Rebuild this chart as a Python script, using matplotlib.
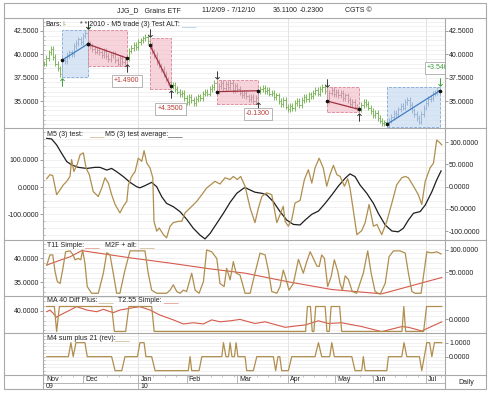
import matplotlib
matplotlib.use("Agg")
import matplotlib.pyplot as plt
from matplotlib.lines import Line2D
from matplotlib.patches import Rectangle
from matplotlib.transforms import ScaledTranslation
from matplotlib.ticker import FormatStrFormatter, MultipleLocator, FixedLocator

plt.rcParams['font.family'] = ['Liberation Sans', 'DejaVu Sans']
plt.rcParams['font.size'] = 5

# ---------------- data ----------------
closes = [
    39.0, 39.6, 40.2, 40.6, 39.7, 39.0, 38.5, 37.9, 39.4, 39.3,
    39.9, 40.2, 40.0, 40.9, 41.2, 41.6, 41.3, 42.0, 42.3, 41.1,
    40.9, 40.6, 40.3, 40.5, 40.2, 39.9, 40.4, 39.8, 39.5, 39.9,
    40.1, 39.4, 39.0, 39.6, 39.2, 39.4, 39.6, 40.4, 40.7, 41.0,
    40.8, 41.3, 41.5, 41.7, 41.9, 41.4, 41.0, 40.3, 39.9, 39.2,
    38.8, 38.4, 37.9, 37.3, 37.0, 36.6, 36.7, 36.3, 36.0, 35.7,
    35.9, 35.3, 34.9, 35.4, 35.1, 34.8, 35.2, 35.5, 35.3, 35.8,
    36.0, 35.8, 36.3, 36.5, 36.9, 36.0, 36.6, 36.9, 36.4, 36.8,
    36.5, 36.9, 36.2, 36.6, 36.3, 35.9, 35.6, 35.9, 35.5, 35.2,
    35.4, 35.0, 35.3, 36.1, 36.3, 36.4, 36.1, 36.2, 35.8, 35.9,
    35.4, 35.6, 35.0, 34.7, 35.1, 34.4, 34.1, 34.5, 34.2, 34.8,
    35.0, 34.6, 35.1, 35.4, 35.2, 35.7, 35.5, 35.9, 36.2, 35.8,
    36.3, 36.5, 36.1, 35.0, 35.9, 36.2, 35.7, 36.0, 35.6, 35.9,
    35.3, 35.6, 35.1, 34.7, 34.9, 34.4, 34.2, 34.1, 34.6, 34.9,
    34.7, 34.3, 33.9, 33.5, 33.7, 33.2, 32.9, 32.6, 32.7, 32.5,
    32.9, 33.3, 33.7, 33.6, 34.1, 34.5, 34.3, 34.9, 35.1, 34.6,
    34.0, 33.6, 33.2, 32.8, 33.6, 34.3, 34.8, 35.2, 35.3, 35.8,
    35.9, 36.2, 36.1,
]

# (entry bar, exit bar, side, result label)
trades = [
    (8, 19, 'long', ''),
    (19, 36, 'short', '+1.4900'),
    (46, 55, 'short', '+4.3500'),
    (75, 93, 'short', '-0.1300'),
    (123, 137, 'short', ''),
    (149, 172, 'long', '+3.5400'),
]

months = ['Nov', 'Dec', 'Jan', 'Feb', 'Mar', 'Apr', 'May', 'Jun', 'Jul']
month_pos = [0, 17, 41, 62, 84, 106, 126.5, 143, 166]
years = ['09', '10']
year_pos = [0, 41]
quarter_lines = [41, 106, 166]

m5_test = [
    (1.2, 18), (2.6, 27), (3.8, 25), (5.5, -18), (7.0, -7), (8.4, 4), (9.9, 12),
    (11.3, 23), (12.0, 61), (13.0, 34), (14.5, 51), (15.7, 72), (17.1, 76),
    (18.3, 42), (19.7, 27), (21.4, -11), (23.6, -22), (25.1, -3), (26.5, 20),
    (28.0, 8), (29.4, -18), (30.9, -40), (33.0, -59), (34.5, -44), (36.0, -33),
    (36.7, 4), (38.1, 23), (39.6, 34), (41.0, 64), (42.5, 57), (43.5, 81),
    (44.7, 53), (46.1, 42), (47.3, 20), (47.8, -78), (49.0, -100), (50.1, -93),
    (51.9, -108), (53.3, -115), (54.8, -89), (56.2, -81), (58.4, -78),
    (59.9, -78), (61.3, -59), (63.5, -48), (66.4, -33), (68.6, -18), (70.7, -3),
    (72.9, 6), (74.3, 12), (76.5, 6), (78.7, 20), (80.9, 16), (82.3, 23),
    (84.0, 16), (85.5, 23), (87.4, 1), (89.6, -48), (91.7, -81), (93.2, -48),
    (94.7, -22), (96.8, -14), (99.0, -18), (101.2, -81), (102.6, -63),
    (104.0, -44), (104.8, -78), (106.2, -89), (107.7, -74), (109.1, -37),
    (111.3, -31), (113.2, 16), (114.9, 38), (116.4, 8), (117.8, 42), (119.6, 64),
    (121.4, 42), (122.9, 1), (124.3, 27), (125.8, 48), (127.3, 27), (128.7, 23),
    (130.6, 1), (132.0, 18), (133.0, -3), (134.5, -55), (136.0, -108),
    (138.1, -99), (139.6, -81), (141.3, -40), (143.2, -89), (144.7, -85),
    (146.8, -108), (149.0, -78), (151.2, -37), (153.3, 4), (155.5, 20),
    (157.0, 23), (158.4, 20), (160.6, 1), (162.7, -18), (164.2, -40),
    (165.7, 12), (167.8, 42), (169.3, 53), (170.7, 105), (172.2, 98), (172.9, 94),
]

m5_average = [
    (1.2, 178), (3.3, 176), (5.5, 154), (7.7, 123), (9.9, 93), (12.0, 81),
    (14.9, 72), (18.6, 68), (22.2, 72), (24.3, 72), (27.3, 62), (29.4, 68),
    (31.6, 56), (34.5, 38), (37.4, 17), (40.3, 1), (41.7, -3), (43.9, 5),
    (46.8, 17), (49.0, 1), (51.2, -36), (53.3, -60), (56.2, -72), (59.1, -90),
    (62.0, -118), (64.9, -151), (67.8, -176), (70.0, -190), (72.2, -170),
    (75.1, -133), (78.0, -96), (80.9, -56), (83.8, -23), (86.7, -5), (87.4, -2),
    (89.6, -11), (91.7, -19), (94.7, -23), (96.8, -29), (99.7, -54),
    (102.6, -90), (105.5, -121), (108.4, -137), (111.3, -139), (113.5, -121),
    (116.4, -100), (119.3, -88), (122.2, -60), (125.1, -29), (128.0, 4),
    (130.9, 32), (133.0, 48), (135.2, 38), (137.4, 7), (140.3, -23),
    (143.2, -60), (145.3, -96), (148.3, -139), (151.2, -161), (154.0, -164),
    (156.2, -151), (158.4, -121), (160.6, -96), (163.5, -90), (165.7, -66),
    (168.6, -17), (170.7, 26), (172.6, 59),
]

t11_simple = [
    (1.2, 38.6), (7.0, 39.6), (11.3, 40.3), (16.4, 41.6), (37.4, 40.1),
    (54.8, 39.0), (72.2, 37.8), (87.4, 36.9), (106.2, 35.1), (125.1, 33.5),
    (146.8, 32.6), (172.9, 36.0),
]

m2f_alt = [
    (1.2, 66), (2.6, 89), (3.8, 89), (4.8, 52), (5.8, 29), (7.0, 25), (8.1, 55),
    (9.4, 96), (11.3, 98), (12.7, 89), (13.5, 78), (14.9, 81), (16.0, 78),
    (16.8, 100), (17.8, 70), (18.8, 18), (20.7, 3), (23.6, 3), (25.8, 48),
    (27.3, 94), (28.7, 89), (30.1, 48), (31.6, 3), (33.0, 3), (35.2, 55),
    (37.4, 98), (43.9, 98), (45.3, 48), (46.8, 10), (49.0, 3), (53.3, 3),
    (54.8, 10), (56.2, 22), (57.7, 7), (59.1, 3), (60.6, 10), (62.0, 7),
    (64.2, 48), (65.7, 10), (67.4, 3), (69.3, 29), (70.7, 100), (72.9, 96),
    (75.1, 81), (76.5, 25), (78.3, 18), (79.4, 59), (80.9, 33), (82.3, 74),
    (83.5, 48), (85.2, 44), (87.4, 3), (89.6, 3), (91.7, 48), (93.9, 93),
    (96.1, 89), (97.5, 55), (99.0, 7), (101.2, 3), (102.6, 18), (104.0, 55),
    (105.1, 37), (106.5, 10), (108.4, 25), (110.6, 79), (112.7, 48),
    (114.2, 74), (115.7, 96), (117.1, 81), (118.6, 64), (119.6, 63),
    (120.7, 89), (121.9, 81), (123.3, 18), (124.8, 40), (126.2, 78),
    (127.7, 52), (128.7, 25), (129.7, 10), (130.9, 42), (132.3, 34), (134.0, 7),
    (135.9, 3), (138.8, 48), (140.7, 98), (142.2, 48), (143.9, 7), (146.1, 1),
    (148.3, 25), (150.0, 85), (151.9, 98), (154.8, 98), (157.0, 93),
    (158.4, 48), (159.9, 7), (161.3, 3), (163.9, 3), (164.9, 40), (166.4, 96),
    (167.8, 94), (169.3, 94), (170.7, 96), (172.6, 91),
]

ma40_diff = [
    (1.2, 1), (4.5, 1), (5.5, -1), (6.7, 1), (29.4, 1), (30.6, -1),
    (35.5, -1), (36.9, 1), (46.8, 1), (47.9, -1), (113.7, -1), (114.5, 1),
    (115.8, 1), (116.6, -1), (117.3, -1), (118.1, 1), (122.2, 1), (123.0, -1),
    (124.0, -1), (124.8, 1), (128.5, 1), (129.4, -1), (155.6, -1), (156.4, 1),
    (157.2, -1), (165.0, -1), (166.3, 1), (172.9, 1),
]

t255_simple = [
    (1.2, 39.7), (2.6, 40.4), (4.0, 39.0), (5.5, 37.4), (7.0, 38.3),
    (9.9, 39.7), (14.2, 41.8), (18.6, 40.4), (22.9, 39.7), (25.8, 40.7),
    (30.1, 39.3), (33.0, 40.4), (38.8, 41.4), (41.7, 41.8), (46.1, 40.4),
    (50.4, 38.3), (56.2, 36.3), (60.6, 34.6), (64.9, 35.1), (69.3, 34.6),
    (72.9, 36.3), (76.5, 35.5), (80.9, 35.9), (85.2, 36.5), (87.4, 35.9),
    (91.7, 34.8), (96.1, 35.5), (104.8, 33.2), (113.5, 34.2), (119.3, 35.9),
    (123.6, 34.8), (129.4, 35.1), (138.1, 33.5), (146.8, 31.4), (155.5, 33.5),
    (158.4, 33.2), (164.2, 31.7), (172.9, 35.5),
]

m4_sum = [
    (1.2, 0), (10.6, 0), (11.7, 1), (12.7, 0), (13.9, 1), (17.8, 1), (18.8, 0),
    (29.4, 0), (30.9, -1), (33.8, -1), (35.2, 0), (40.6, 0), (41.7, 1),
    (43.5, 1), (44.3, 0), (46.8, 0), (48.3, -1), (62.7, -1), (63.5, 0),
    (64.2, -1), (67.4, -1), (68.6, 0), (77.3, 0), (78.0, 1), (79.1, 0),
    (80.2, 0), (80.9, 1), (81.7, 0), (82.8, 0), (83.5, 1), (84.3, 0),
    (87.4, 0), (88.1, -1), (91.0, -1), (92.5, 0), (99.7, 0), (100.7, -1),
    (101.7, 0), (102.5, 0), (103.3, -1), (106.2, -1), (107.7, 0), (117.8, 0),
    (119.3, 1), (120.7, 0), (124.2, 0), (125.1, 1), (126.2, 0), (133.8, 0),
    (135.2, -1), (138.1, -1), (138.8, 0), (139.6, -1), (149.0, -1), (149.7, 0),
    (155.5, 0), (156.5, 1), (157.7, 0), (163.2, 0), (164.2, -1), (166.4, 1),
    (167.6, 1), (168.6, 0), (169.7, 1), (172.9, 1),
]

# ---------------- layout ----------------
W, H = 490, 393
LEFT, RIGHT = 43, 445
XMIN, XMAX = -0.43, 174.3
GOLD = '#b08e4e'
RED = '#d65a4b'
GREEN = '#7db85c'
FRAME = '#a9a9a9'
GRID = '#ececec'

fig = plt.figure(figsize=(W / 100, H / 100), dpi=100)
fig.patch.set_facecolor('white')


def fx(x):
    return x / W


def fy(y):
    return 1 - y / H


def hline(y, x0=4, x1=486, color=FRAME, lw=0.8):
    fig.add_artist(Line2D([fx(x0), fx(x1)], [fy(y), fy(y)], color=color, lw=lw))


def vline(x, y0, y1, color=FRAME, lw=0.8):
    fig.add_artist(Line2D([fx(x), fx(x)], [fy(y0), fy(y1)], color=color, lw=lw))


def label(x, y, s, color='#222222', size=5, ha='left'):
    fig.text(fx(x), fy(y), s, color=color, fontsize=size, ha=ha, va='center')


def make_panel(top, bot):
    ax = fig.add_axes([fx(LEFT), fy(bot), fx(RIGHT - LEFT), (bot - top) / H])
    ax.set_xlim(XMIN, XMAX)
    ax.set_xticks([])
    for s in ax.spines.values():
        s.set_visible(False)
    ax.tick_params(axis='y', which='major', length=2, width=0.5, color='#777777',
                   pad=1, labelsize=5, labelcolor='#222222')
    ax.tick_params(axis='y', which='minor', length=1.5, width=0.4,
                   color='#999999', direction='in')
    for q in quarter_lines:
        ax.axvline(q, color='#dddddd', lw=0.6, zorder=0)
    return ax


def right_axis(ax, lim, ticks):
    r = ax.twinx()
    r.set_xlim(XMIN, XMAX)
    r.set_ylim(*lim)
    for s in r.spines.values():
        s.set_visible(False)
    r.yaxis.set_major_locator(FixedLocator(ticks))
    r.yaxis.set_major_formatter(FormatStrFormatter('%.4f'))
    r.tick_params(axis='y', length=2, width=0.5, color='#777777', pad=1,
                  labelsize=5, labelcolor='#222222')
    return r


def left_ticks(ax, lim, ticks, minor):
    ax.set_ylim(*lim)
    ax.yaxis.set_major_locator(FixedLocator(ticks))
    ax.yaxis.set_major_formatter(FormatStrFormatter('%.4f'))
    ax.yaxis.set_minor_locator(MultipleLocator(minor))
    ax.grid(axis='y', which='both', color=GRID, lw=0.5, zorder=0)


# ---- panel 1: price bars and trades ----
ax1 = make_panel(18, 128)
left_ticks(ax1, (32.11, 43.89), [35, 37.5, 40, 42.5], 0.5)
right_axis(ax1, (32.11, 43.89), [35, 37.5, 40, 42.5])

WICK = 0.3
opens = [closes[0]] + closes[:-1]
highs = [max(o, c) + WICK for o, c in zip(opens, closes)]
lows = [min(o, c) - WICK for o, c in zip(opens, closes)]

bar_col = [GREEN] * len(closes)
for a, b, side, _ in trades:
    for i in range(a, b + 1):
        bar_col[i] = '#c89aa3' if side == 'short' else '#9bb5d3'

idx = list(range(len(closes)))
ax1.vlines(idx, lows, highs, colors=bar_col, lw=0.7, zorder=3)
ax1.hlines(closes, [i for i in idx], [i + 0.5 for i in idx], colors=bar_col, lw=0.7, zorder=3)
ax1.hlines(opens, [i - 0.5 for i in idx], [i for i in idx], colors=bar_col, lw=0.7, zorder=3)

up_shift = ax1.transData + ScaledTranslation(0, -0.05, fig.dpi_scale_trans)
down_shift = ax1.transData + ScaledTranslation(0, 0.05, fig.dpi_scale_trans)

for a, b, side, res in trades:
    lo = min(lows[a:b + 1])
    hi = max(highs[a:b + 1])
    if side == 'short':
        fc, ec, lc, tc = (0.95, 0.72, 0.77, 0.6), '#d98593', '#a3303e', '#b83a30'
    else:
        fc, ec, lc, tc = (0.78, 0.86, 0.95, 0.7), '#7fa8d6', '#3f7fc4', '#3c9d3c'
    ax1.add_patch(Rectangle((a, lo), b - a, hi - lo, facecolor=fc, edgecolor=ec,
                            lw=0.6, ls='--', zorder=2))
    ax1.plot([a, b], [closes[a], closes[b]], color=lc, lw=0.9, zorder=4)
    ax1.plot([a, b], [closes[a], closes[b]], 'o', ms=1.6, color='#111111', zorder=5)
    # signal arrows: exit first, entry on top
    acol = '#3c9d3c' if side == 'long' else '#333333'
    if side == 'long':
        marks = [(b, 'down'), (a, 'up')]
    else:
        marks = [(b, 'up'), (a, 'down')]
    for i, kind in marks:
        if kind == 'up':
            ax1.plot(i, lows[i], marker='$\u2191$', ms=6, color=acol, mew=0,
                     transform=up_shift, zorder=6)
        else:
            ax1.plot(i, highs[i], marker='$\u2193$', ms=6, color=acol, mew=0,
                     transform=down_shift, zorder=6)
    if res:
        off = -16.5 if side == 'short' else 16.5
        ax1.annotate(res, xy=(b, closes[b]), xytext=(0, off), textcoords='offset points',
                     ha='center', va='center', fontsize=5, color=tc, clip_on=True,
                     bbox=dict(boxstyle='square,pad=0.35', fc='white', ec='#9a9a9a', lw=0.5),
                     zorder=7)

# ---- panel 2: M5 test / average ----
ax2 = make_panel(128, 240)
left_ticks(ax2, (-194, 216), [-100, 0, 100], 25)
r2 = right_axis(ax2, (-120, 132), [-100, -50, 0, 50, 100])
ax2.plot(*zip(*m5_average), color='#1e1e1e', lw=0.9, zorder=4)
r2.plot(*zip(*m5_test), color=GOLD, lw=0.9, zorder=3)

# ---- panel 3: T11 simple / M2F + alt ----
ax3 = make_panel(240, 296)
left_ticks(ax3, (32.15, 43.81), [35, 40], 1)
r3 = right_axis(ax3, (-3.1, 122.4), [50, 100])
r3.plot(*zip(*m2f_alt), color=GOLD, lw=0.9)
ax3.plot(*zip(*t11_simple), color=RED, lw=0.8, zorder=4)

# ---- panel 4: MA 40 diff plus / T2.55 simple ----
ax4 = make_panel(296, 333)
left_ticks(ax4, (30.83, 46.25), [40], 2)
r4 = right_axis(ax4, (-1.12, 1.84), [0])
r4.plot(*zip(*ma40_diff), color=GOLD, lw=0.9)
ax4.plot(*zip(*t255_simple), color=RED, lw=0.8, zorder=4)

# ---- panel 5: M4 sum plus 21 ----
ax5 = make_panel(333, 375)
ax5.set_ylim(-1.31, 1.69)
ax5.set_yticks([])
ax5.yaxis.set_minor_locator(MultipleLocator(0.25))
ax5.grid(axis='y', which='minor', color=GRID, lw=0.5, zorder=0)
r5 = right_axis(ax5, (-1.31, 1.69), [0, 1])
r5.plot(*zip(*m4_sum), color=GOLD, lw=0.9)

# ---- date strip ----
dax = fig.add_axes([fx(LEFT), fy(389), fx(RIGHT - LEFT), 14 / H])
dax.set_xlim(XMIN, XMAX)
dax.set_ylim(0, 1)
dax.axis('off')
for m, p in zip(months, month_pos):
    if p > 0:
        dax.vlines(p, 0 if m == 'Jan' else 0.43, 1, color=FRAME, lw=0.6)
    dax.text(p + 0.9, 0.66, m, fontsize=5, color='#222222', va='center', ha='left')
for yl, p in zip(years, year_pos):
    dax.text(p + 0.9, 0.2, yl, fontsize=5, color='#222222', va='center', ha='left')
dax.axhline(0.43, color=FRAME, lw=0.6)
dax.vlines([t + 2.5 for t in range(0, 172, 5)], 0.88, 1, color='#999999', lw=0.4)

# ---- frame and separators ----
fig.add_artist(Rectangle((fx(4), fy(389)), fx(482), 386 / H, transform=fig.transFigure,
                         fill=False, ec=FRAME, lw=0.8))
hline(18)
for yy in (128, 240, 296, 333, 375):
    hline(yy)
vline(LEFT, 18, 389)
vline(RIGHT, 18, 389)

# ---- title and legends ----
label(117, 11, 'JJG_D   Grains ETF')
label(201.5, 11, '11/2/09 - 7/12/10')
label(273, 11, '36.1100')
label(300, 11, '-0.2300')
label(345, 11, 'CGTS ©')

label(45, 24.5, 'Bars:')
label(62, 24.5, 'I-', color=GREEN)
label(80, 24.5, '* * 2010 - M5 trade (3) Test ALT:')
label(181, 24.5, '____', color='#7fb3e0')

label(46.5, 135, 'M5 (3) test:')
label(89, 135, '____', color=GOLD)
label(105, 135, 'M5 (3) test average:')
label(167, 135, '____', color='#1e1e1e')

label(46.5, 245.5, 'T11 Simple:')
label(84, 245.5, '____', color=RED)
label(105, 245.5, 'M2F + alt:')
label(139, 245.5, '____', color=GOLD)

label(46.5, 301, 'MA 40 Diff Plus:')
label(98, 301, '____', color=GOLD)
label(118, 301, 'T2.55 Simple:')
label(163, 301, '____', color=RED)

label(46.5, 338.5, 'M4 sum plus 21 (rev):')
label(114, 338.5, '____', color=GOLD)

label(466, 382, 'Daily', ha='center')

fig.savefig('out.png', dpi=100)
